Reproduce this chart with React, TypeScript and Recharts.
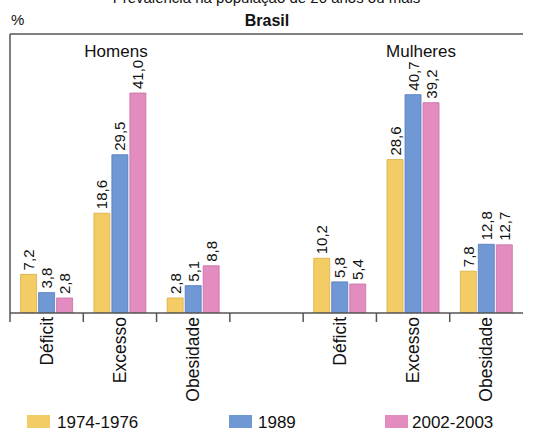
import React from 'react';
import { BarChart, Bar, XAxis, YAxis, LabelList, ReferenceLine } from 'recharts';

const categories = ['Déficit', 'Excesso', 'Obesidade', '', 'Déficit', 'Excesso', 'Obesidade'];
const series1974 = [7.2, 18.6, 2.8, null, 10.2, 28.6, 7.8];
const series1989 = [3.8, 29.5, 5.1, null, 5.8, 40.7, 12.8];
const series2002 = [2.8, 41.0, 8.8, null, 5.4, 39.2, 12.7];
const seriesNames = ['1974-1976', '1989', '2002-2003'];
const groupLabels = ['Homens', 'Mulheres'];
const chartTitle = 'Prevalência na população de 20 anos ou mais';
const subTitle = 'Brasil';
const unitLabel = '%';

const colors = ['#F4CC66', '#7098D4', '#E28CC0'];
const strokes = ['#D9AE45', '#5479BA', '#C66FA3'];

const data = categories.map((c, i) => ({
  idx: i,
  a: series1974[i],
  b: series1989[i],
  c: series2002[i],
}));

const FONT = '"Liberation Sans", Arial, Helvetica, sans-serif';

const fmt = (v: number) => v.toFixed(1).replace('.', ',');

const renderValueLabel = (props: any) => {
  const { x, y, width, value } = props;
  if (value == null) return null;
  const cx = Number(x) + Number(width) / 2;
  const ty = Number(y) - 4;
  return (
    <text
      x={cx}
      y={ty}
      transform={`rotate(-90 ${cx} ${ty})`}
      textAnchor="start"
      dominantBaseline="central"
      fontSize={15}
      fontFamily={FONT}
      fill="#111"
    >
      {fmt(Number(value))}
    </text>
  );
};

const CatTick = (props: any) => {
  const { x, y, payload } = props;
  const label = categories[payload.value] ?? '';
  const half = Number(payload?.offset ?? 0);
  const bx = Number(x) - half;
  const ay = Number(y);
  const ty = ay + 4;
  return (
    <g>
      <line x1={bx} y1={ay} x2={bx} y2={ay + 9} stroke="#555" strokeWidth={1.5} />
      {label ? (
        <text
          x={x}
          y={ty}
          transform={`rotate(-90 ${x} ${ty})`}
          textAnchor="end"
          dominantBaseline="central"
          fontSize={17.5}
          fontFamily={FONT}
          fill="#111"
        >
          {label}
        </text>
      ) : null}
    </g>
  );
};

const abs = (extra: React.CSSProperties): React.CSSProperties => ({
  position: 'absolute',
  fontFamily: FONT,
  color: '#111',
  whiteSpace: 'nowrap',
  ...extra,
});

export default function App() {
  const legendPos = [
    { sw: 27, tx: 57 },
    { sw: 229, tx: 258 },
    { sw: 385, tx: 412 },
  ];
  return (
    <div style={{ position: 'absolute', left: 0, top: 0, width: 533, height: 433, overflow: 'hidden', background: '#fff' }}>
      <BarChart
        width={533}
        height={433}
        data={data}
        margin={{ top: 34, right: 10, left: 9, bottom: 0 }}
        barCategoryGap={10.6}
        barGap={2}
      >
        <XAxis
          type="category"
          dataKey="idx"
          interval={0}
          height={120}
          tickSize={0}
          tickMargin={0}
          axisLine={{ stroke: '#555', strokeWidth: 1.5 }}
          tickLine={false}
          tick={<CatTick />}
        />
        <YAxis
          type="number"
          domain={[0, 52]}
          allowDataOverflow
          width={1}
          tick={false}
          tickLine={false}
          axisLine={{ stroke: '#555', strokeWidth: 1.5 }}
        />
        <ReferenceLine y={52} stroke="#555" strokeWidth={1.5} />
        <Bar dataKey="a" fill={colors[0]} stroke={strokes[0]} strokeWidth={0.8} isAnimationActive={false}>
          <LabelList dataKey="a" content={renderValueLabel} />
        </Bar>
        <Bar dataKey="b" fill={colors[1]} stroke={strokes[1]} strokeWidth={0.8} isAnimationActive={false}>
          <LabelList dataKey="b" content={renderValueLabel} />
        </Bar>
        <Bar dataKey="c" fill={colors[2]} stroke={strokes[2]} strokeWidth={0.8} isAnimationActive={false}>
          <LabelList dataKey="c" content={renderValueLabel} />
        </Bar>
      </BarChart>

      <div style={abs({ left: 0, width: 533, top: -10, fontSize: 15, lineHeight: '15px', textAlign: 'center' })}>{chartTitle}</div>
      <div style={abs({ left: 11, top: 12, fontSize: 15, lineHeight: '15px' })}>{unitLabel}</div>
      <div style={abs({ left: 167, width: 200, top: 13, fontSize: 16, lineHeight: '16px', fontWeight: 'bold', textAlign: 'center' })}>{subTitle}</div>
      <div style={abs({ left: 16, width: 200, top: 42.5, fontSize: 17, lineHeight: '17px', textAlign: 'center' })}>{groupLabels[0]}</div>
      <div style={abs({ left: 321, width: 200, top: 42.5, fontSize: 17, lineHeight: '17px', textAlign: 'center' })}>{groupLabels[1]}</div>

      {seriesNames.map((name, i) => (
        <React.Fragment key={name}>
          <div style={{ position: 'absolute', left: legendPos[i].sw, top: 415, width: 23, height: 13, background: colors[i] }} />
          <div style={abs({ left: legendPos[i].tx, top: 413.5, fontSize: 17, lineHeight: '17px' })}>{name}</div>
        </React.Fragment>
      ))}
    </div>
  );
}
